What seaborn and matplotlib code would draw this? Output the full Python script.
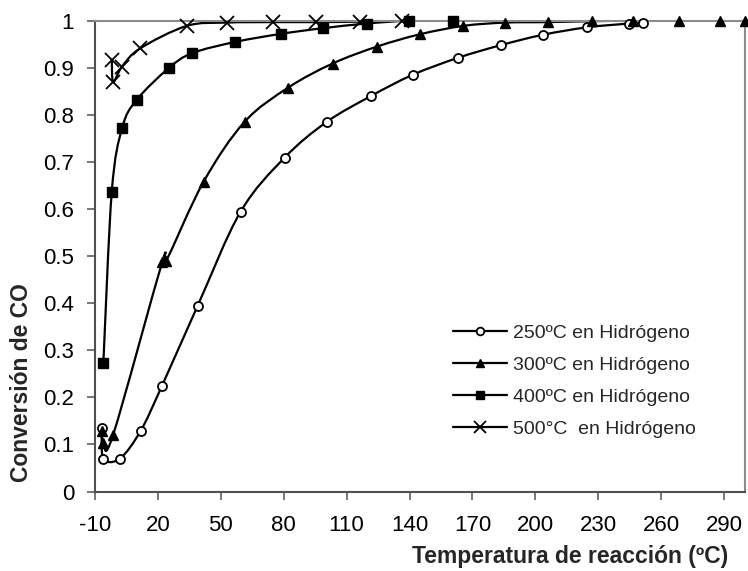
import numpy as np
import pandas as pd
import matplotlib
matplotlib.use("Agg")
import matplotlib.pyplot as plt
from matplotlib.path import Path
from matplotlib.patches import PathPatch
from matplotlib.lines import Line2D
import seaborn as sns

# ---- data ----
x250 = [-6.8, -6.0, 1.9, 11.8, 21.9, 39.0, 59.4, 80.4, 100.5, 121.6, 141.5, 163.0, 183.5, 203.5, 224.8, 244.8, 251.3]
y250 = [0.134, 0.070, 0.070, 0.129, 0.224, 0.395, 0.594, 0.709, 0.785, 0.840, 0.885, 0.921, 0.948, 0.970, 0.986, 0.994, 0.996]

x300 = [-6.8, -6.0, -1.3, 22.1, 24.0, 41.8, 61.3, 82.2, 103.3, 124.5, 144.8, 165.7, 185.7, 206.0, 227.0, 246.8, 268.3, 288.3, 300.0]
y300 = [0.128, 0.102, 0.121, 0.488, 0.490, 0.658, 0.785, 0.858, 0.909, 0.945, 0.971, 0.989, 0.996, 0.997, 0.999, 1.0, 1.0, 1.0, 1.0]

x400 = [-6.0, -2.0, 3.0, 9.9, 25.1, 36.3, 57.0, 78.6, 98.5, 119.6, 139.7, 160.7]
y400 = [0.274, 0.637, 0.773, 0.832, 0.899, 0.931, 0.955, 0.972, 0.984, 0.994, 1.0, 1.0]

x500 = [-2.0, -1.3, 2.8, 11.5, 33.8, 52.9, 74.9, 95.4, 116.3, 136.5]
y500 = [0.916, 0.870, 0.902, 0.941, 0.989, 0.996, 0.997, 0.997, 0.998, 1.0]

labels = ["250ºC en Hidrógeno", "300ºC en Hidrógeno", "400ºC en Hidrógeno", "500°C  en Hidrógeno"]
xticks = [-10, 20, 50, 80, 110, 140, 170, 200, 230, 260, 290]
yticks = [0, 0.1, 0.2, 0.3, 0.4, 0.5, 0.6, 0.7, 0.8, 0.9, 1]
ytick_labels = ["0", "0.1", "0.2", "0.3", "0.4", "0.5", "0.6", "0.7", "0.8", "0.9", "1"]

sns.set_theme(style="white")
plt.rcParams['font.family'] = ['Liberation Sans', 'DejaVu Sans']

fig = plt.figure(figsize=(7.48, 5.71), dpi=100)
ax = fig.add_axes([95/748, 1-491.5/571, 650/748, (491.5-20.7)/571])

styles = [
    dict(marker="o", mfc="white", mec="black", ms=6.5, mew=1.3),
    dict(marker="^", mfc="black", mec="black", ms=7, mew=1.0),
    dict(marker="s", mfc="black", mec="black", ms=6.5, mew=1.0),
    dict(marker="x", mfc="black", mec="black", ms=10, mew=1.3),
]
series = [(x250, y250), (x300, y300), (x400, y400), (x500, y500)]


def smooth_path(xs, ys):
    p = np.column_stack([xs, ys]).astype(float)
    n = len(p)
    verts = [p[0]]
    codes = [Path.MOVETO]
    for i in range(n - 1):
        p0 = p[i - 1] if i > 0 else p[i]
        p1 = p[i]
        p2 = p[i + 1]
        p3 = p[i + 2] if i + 2 < n else p[i + 1]
        c1 = p1 + (p2 - p0) / 6.0
        c2 = p2 - (p3 - p1) / 6.0
        verts += [c1, c2, p2]
        codes += [Path.CURVE4] * 3
    return Path(verts, codes)


handles = []
for (xs, ys), st, lab in zip(series, styles, labels):
    patch = PathPatch(smooth_path(xs, ys), facecolor="none", edgecolor="black",
                      lw=1.6, zorder=2, clip_on=True)
    ax.add_patch(patch)
    df = pd.DataFrame({"x": xs, "y": ys})
    sns.lineplot(data=df, x="x", y="y", sort=False, ax=ax, linestyle="",
                 marker=st["marker"], markersize=st["ms"],
                 markerfacecolor=st["mfc"], markeredgecolor=st["mec"],
                 markeredgewidth=st["mew"], color="black", zorder=3,
                 clip_on=False)
    handles.append(Line2D([], [], color="black", lw=1.6, marker=st["marker"],
                          markersize=st["ms"] * 0.85, markerfacecolor=st["mfc"],
                          markeredgecolor=st["mec"], markeredgewidth=st["mew"]))

ax.set_xlim(-10, 300)
ax.set_ylim(0, 1)
ax.set_xticks(xticks)
ax.set_xticklabels([str(t) for t in xticks])
ax.set_yticks(yticks)
ax.set_yticklabels(ytick_labels)
ax.tick_params(axis="both", which="major", direction="out", length=6, width=1.2,
               color="#606060", labelsize=16, labelcolor="black")
ax.tick_params(axis="x", pad=11)
ax.tick_params(axis="y", pad=9)
ax.tick_params(bottom=True, left=True)

for side in ["left", "bottom"]:
    ax.spines[side].set_color("#505050")
    ax.spines[side].set_linewidth(1.5)
for side in ["top", "right"]:
    ax.spines[side].set_color("#8c8c8c")
    ax.spines[side].set_linewidth(1.5)

ax.set_xlabel("Temperatura de reacción (ºC)", fontsize=16.5, fontweight="bold")
ax.set_ylabel("Conversión de CO", fontsize=16.5, fontweight="bold")
ax.xaxis.set_label_coords((570-95)/650, (491.5-545)/471)
ax.yaxis.set_label_coords((33-95)/650, (491.5-383)/471)

leg = ax.legend(handles, labels, loc="upper left", frameon=False,
                bbox_to_anchor=((453-95)/650, (491.5-324)/471),
                borderaxespad=0, borderpad=0, fontsize=14,
                handlelength=2.8, handletextpad=0.3, labelspacing=0.74)

fig.savefig("out.png", dpi=100, facecolor="white")
